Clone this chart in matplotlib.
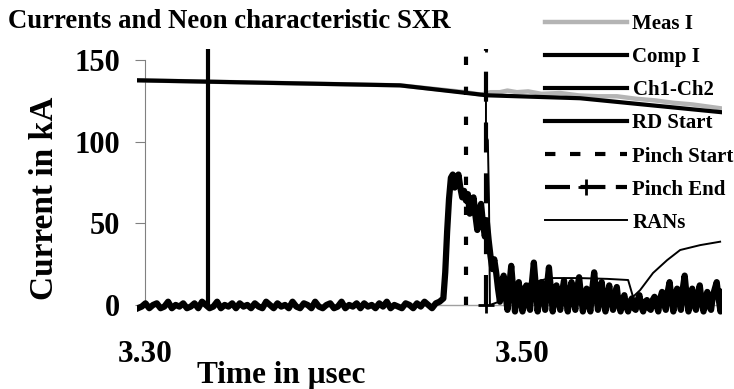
import numpy as np
import matplotlib
matplotlib.use("Agg")
import matplotlib.pyplot as plt
from matplotlib.lines import Line2D

plt.rcParams['font.family'] = ['Liberation Serif', 'DejaVu Serif']
plt.rcParams['font.weight'] = 'bold'

# ---------------- data ----------------
# Ch1-Ch2 (SXR signal): quiet part sampled every 0.002 usec from 3.296 usec
sxr_base_t0 = 3.296
sxr_base_dt = 0.002
sxr_base_vals = [
    -2, -1, 1, -2, 0, 1, -2, -1, 2, -2, 0, -1, 1, -2, -1, 1, -2, 2, 0, -2,
    -1, 2, -2, 0, -1, 1, -2, 1, -1, 0, -2, 1, -1, -2, 2, 0, -2, 1, -1, 0,
    -2, 2, -1, -2, 1, 0, -2, 2, -1, -2, 0, 1, -2, -1, 2, -2, 0, -1, 1, -2,
    1, -1, 0, -2, 1, -1, 2, -2, 0, -1, -2, 1, 0, -2, 1, -1, 2, 0, -2, 1, 2,
]
# active part sampled every 0.001 usec from 3.458 usec
sxr_act_t0 = 3.458
sxr_act_dt = 0.001
sxr_act_vals = [
    4, 20, 45, 65, 78, 80, 72, 76, 80, 72,
    66, 70, 64, 68, 56, 62, 66, 55, 46, 58,
    62, 50, 42, 52, 40, 30, 22, 28, 20, 10,
    2, 14, 18, 6, -3, 12, 24, 10, -4, 8,
    14, 2, -4, 8, 12, 0, -3, 14, 26, 12,
    -4, 6, 14, 4, -3, 12, 23, 10, -4, 6,
    12, 2, -3, 8, 15, 4, -4, 8, 14, 2,
    -3, 10, 17, 6, -4, 4, 10, 0, -4, 10,
    20, 8, -3, 6, 14, 2, -4, 6, 12, 2,
    -3, 6, 11, 0, -4, 3, 6, -1, -4, 2,
    4, -2, -3, 3, 6, -1, -4, 2, 3, -2,
    -3, 3, 5, 0, -4, 4, 8, 2, -3, 8,
    14, 4, -4, 6, 10, 2, -3, 10, 18, 6,
    -4, 4, 10, 0, -3, 6, 12, 2, -4, 4,
    8, -1, -3, 6, 10, 14, 4, -4, 8,
]

comp_t = [3.2955, 3.435, 3.4811, 3.5305, 3.6058]
comp_i = [137.8, 134.7, 128.6, 126.8, 118.2]

meas_t = [3.2955, 3.435, 3.470, 3.478, 3.483, 3.488, 3.492, 3.497, 3.503, 3.510,
          3.520, 3.530, 3.540, 3.550, 3.560, 3.570, 3.580, 3.590, 3.6058]
meas_i = [137.8, 134.7, 130.5, 129.0, 130.5, 130.5, 131.5, 130.5, 131.0, 129.5,
          130.0, 128.5, 128.0, 128.0, 126.5, 125.5, 124.0, 123.0, 120.5]

rans_t = [3.4806, 3.4806, 3.4816, 3.4822, 3.4827, 3.490, 3.496, 3.503, 3.5146,
          3.530, 3.545, 3.556, 3.5586, 3.5623, 3.5692, 3.5767, 3.5836, 3.5942, 3.6048]
rans_v = [128.6, 104, 101, 64, 0, 3, 9, 13, 16.5,
          16.5, 16.0, 15.3, 5, 9, 19.6, 27.5, 33.7, 36.7, 38.8]

rd_start_t = [3.3332, 3.3332]
pinch_start_t = [3.470, 3.470]
pinch_end_t = [3.4806, 3.4806]
marker_v = [0, 160]

x_ticks = [3.30, 3.50]
x_ticklabels = ["3.30", "3.50"]
y_ticks = [0, 50, 100, 150]
y_ticklabels = ["0", "50", "100", "150"]

# ---------------- figure ----------------
fig = plt.figure(figsize=(7.34, 3.89), dpi=100)
ax = fig.add_axes([137 / 734, 1 - 318 / 389, (722 - 137) / 734, (318 - 49) / 389])
ax.set_xlim(3.2955, 3.6058)
ax.set_ylim(-8, 157)

sxr_t = np.concatenate([
    sxr_base_t0 + sxr_base_dt * np.arange(len(sxr_base_vals)),
    sxr_act_t0 + sxr_act_dt * np.arange(len(sxr_act_vals)),
])
sxr_v = np.array(sxr_base_vals + sxr_act_vals, dtype=float)

ax.axhline(0, color='#a0a0a0', lw=1.0, zorder=1)

ax.plot(meas_t, meas_i, color='#b4b4b4', lw=3.2, solid_capstyle='butt', zorder=2)
ax.plot(comp_t, comp_i, color='black', lw=3.0, zorder=3)
ax.plot(sxr_t, sxr_v, color='black', lw=4.5, zorder=3)
ax.plot(rd_start_t, marker_v, color='black', lw=3.0, zorder=3)
ax.plot(pinch_start_t, marker_v, color='black', lw=3.0, dashes=(2, 5.2), zorder=3)
ax.plot(pinch_end_t, marker_v, color='black', lw=3.0, dashes=(7.2, 5.0),
        marker='+', markersize=12, markeredgewidth=2, zorder=3)
ax.plot(rans_t, rans_v, color='black', lw=1.4, zorder=4)

# axes styling
for s in ['top', 'right', 'bottom']:
    ax.spines[s].set_visible(False)
ax.spines['left'].set_position(('data', 3.30))
ax.spines['left'].set_bounds(0, 150)
ax.spines['left'].set_color('#808080')
ax.spines['left'].set_linewidth(0.8)

ax.set_yticks(y_ticks)
ax.set_yticklabels(y_ticklabels, fontsize=22, fontweight='bold')
ax.tick_params(axis='y', direction='out', length=7, width=0.8, color='#808080', pad=11)
ax.set_xticks(x_ticks)
ax.set_xticklabels(x_ticklabels, fontsize=22.5, fontweight='bold')
ax.tick_params(axis='x', length=0, pad=16)

fig.text(8 / 734, 1 - 22 / 389, "Currents and Neon characteristic SXR",
         fontsize=19.3, fontweight='bold', ha='left', va='center')
fig.text(45 / 734, 1 - 198 / 389, "Current in kA", fontsize=24, fontweight='bold',
         rotation=90, ha='center', va='center')
fig.text(281 / 734, 1 - 375 / 389, "Time in μsec", fontsize=22.5, fontweight='bold',
         ha='center', va='center')

handles = [
    Line2D([], [], color='#b4b4b4', lw=3.2),
    Line2D([], [], color='black', lw=3.0),
    Line2D([], [], color='black', lw=3.0),
    Line2D([], [], color='black', lw=3.0),
    Line2D([], [], color='black', lw=3.0, dashes=(2.5, 3.5)),
    Line2D([], [], color='black', lw=3.0, dashes=(6, 2.5), marker='+',
           markersize=12, markeredgewidth=2),
    Line2D([], [], color='black', lw=1.4),
]
labels = ["Meas I", "Comp I", "Ch1-Ch2", "RD Start", "Pinch Start", "Pinch End", "RANs"]
leg = fig.legend(handles, labels, loc='upper left',
                 bbox_to_anchor=(545 / 734, 1 - 14 / 389),
                 frameon=False, prop={'family': 'Liberation Serif', 'weight': 'bold', 'size': 15},
                 handlelength=3.95, handletextpad=0.25, labelspacing=0.63,
                 borderaxespad=0, borderpad=0)

fig.savefig("out.png", dpi=100, facecolor='white')
